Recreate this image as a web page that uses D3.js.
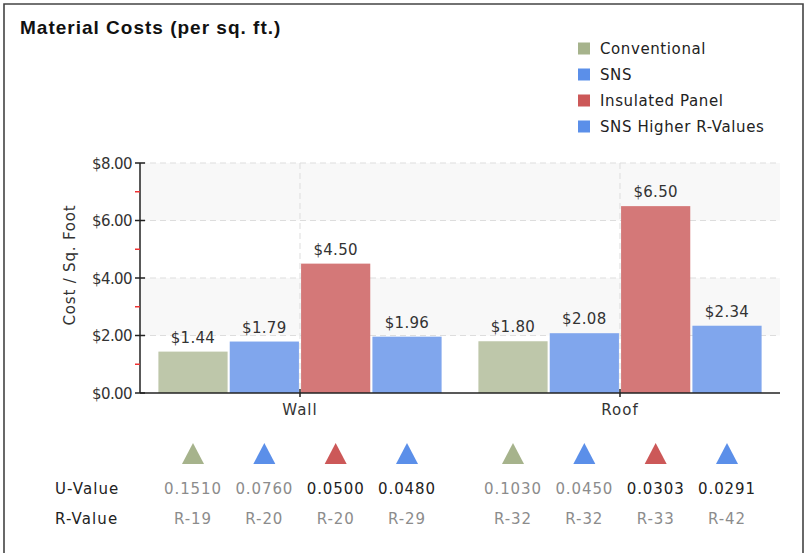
<!DOCTYPE html>
<html><head><meta charset="utf-8">
<script src="https://cdn.jsdelivr.net/npm/d3@7/dist/d3.min.js"></script>
<style>body{margin:0;background:#fff;}svg{display:block;}</style>
</head><body>
<svg id="c" width="806" height="553"></svg>
<script>
const categories = ["Wall", "Roof"];
const seriesNames = ["Conventional", "SNS", "Insulated Panel", "SNS Higher R-Values"];
const wallCosts = [1.44, 1.79, 4.50, 1.96];
const roofCosts = [1.80, 2.08, 6.50, 2.34];
const wallU = ["0.1510", "0.0760", "0.0500", "0.0480"];
const roofU = ["0.1030", "0.0450", "0.0303", "0.0291"];
const wallR = ["R-19", "R-20", "R-20", "R-29"];
const roofR = ["R-32", "R-32", "R-33", "R-42"];
const uDark = [false, false, true, true];
const yTicks = [0, 2, 4, 6, 8];
const yMinor = [1, 3, 5, 7];

const barColors = ["#bec7aa", "#80a6ed", "#d47878", "#80a6ed"];
const triColors = ["#a6b38c", "#5b8fe9", "#cc5858", "#5b8fe9"];

const costs = {Wall: wallCosts, Roof: roofCosts};
const uvals = {Wall: wallU, Roof: roofU};
const rvals = {Wall: wallR, Roof: roofR};

const svg = d3.select("#c");
const F = "'DejaVu Sans', sans-serif";

// frame
svg.append("path").attr("d", "M4,560 V4 H803 V560").attr("fill", "none")
  .attr("stroke", "#444").attr("stroke-width", 1.6);

svg.append("text").attr("x", 20).attr("y", 34)
  .attr("font-family", "'Liberation Sans', Arial, sans-serif").attr("font-weight", "bold")
  .attr("font-size", 19).attr("letter-spacing", 1).attr("fill", "#111")
  .text("Material Costs (per sq. ft.)");

const pLeft = 140, pRight = 780, pTop = 163, pBottom = 393;
const y = d3.scaleLinear().domain([0, 8]).range([pBottom, pTop]);
const x0 = d3.scaleBand().domain(categories).range([pLeft, pRight]).paddingInner(0.115).paddingOuter(0.0575);
const x1 = d3.scaleBand().domain(seriesNames).range([0, x0.bandwidth()]).paddingInner(0.03);

// bands
const g = svg.append("g");
for (let i = 0; i < yTicks.length - 1; i++) {
  if (i % 2 === 1) {
    g.append("rect").attr("x", pLeft).attr("width", pRight - pLeft)
      .attr("y", y(yTicks[i + 1])).attr("height", y(yTicks[i]) - y(yTicks[i + 1]))
      .attr("fill", "#f8f8f8");
  }
}
// grid
g.selectAll("line.hg").data(yTicks.slice(1)).join("line")
  .attr("x1", pLeft).attr("x2", pRight).attr("y1", d => y(d)).attr("y2", d => y(d))
  .attr("stroke", "#dddddd").attr("stroke-dasharray", "6,4");
g.selectAll("line.vg").data(categories).join("line")
  .attr("x1", d => x0(d) + x0.bandwidth() / 2).attr("x2", d => x0(d) + x0.bandwidth() / 2)
  .attr("y1", pTop).attr("y2", pBottom)
  .attr("stroke", "#dddddd").attr("stroke-dasharray", "6,4");

// bars
const cg = svg.selectAll("g.cat").data(categories).join("g").attr("class", "cat")
  .attr("transform", d => `translate(${x0(d)},0)`);
cg.selectAll("rect").data(c => costs[c].map((v, i) => ({v, i, s: seriesNames[i]}))).join("rect")
  .attr("x", d => x1(d.s)).attr("width", x1.bandwidth())
  .attr("y", d => y(d.v)).attr("height", d => y(0) - y(d.v))
  .attr("fill", d => barColors[d.i]);
cg.selectAll("text.val").data(c => costs[c].map((v, i) => ({v, i, s: seriesNames[i]}))).join("text")
  .attr("class", "val")
  .attr("x", d => x1(d.s) + x1.bandwidth() / 2).attr("y", d => y(d.v) - 9)
  .attr("text-anchor", "middle").attr("font-family", F).attr("font-size", 15)
  .attr("letter-spacing", 0.3).attr("fill", "#333")
  .text(d => "$" + d3.format(".2f")(d.v));

// triangles & table
cg.selectAll("path.tri").data(c => seriesNames.map((s, i) => ({s, i}))).join("path")
  .attr("class", "tri")
  .attr("d", d => {
    const cx = x1(d.s) + x1.bandwidth() / 2;
    return `M${cx - 11},464 L${cx},443 L${cx + 11},464 Z`;
  })
  .attr("fill", d => triColors[d.i]);
cg.selectAll("text.u").data(c => uvals[c].map((v, i) => ({v, i, s: seriesNames[i]}))).join("text")
  .attr("class", "u")
  .attr("x", d => x1(d.s) + x1.bandwidth() / 2).attr("y", 494)
  .attr("text-anchor", "middle").attr("font-family", F).attr("font-size", 15)
  .attr("letter-spacing", 0.9).attr("fill", d => uDark[d.i] ? "#222" : "#8c8c8c")
  .text(d => d.v);
cg.selectAll("text.r").data(c => rvals[c].map((v, i) => ({v, i, s: seriesNames[i]}))).join("text")
  .attr("class", "r")
  .attr("x", d => x1(d.s) + x1.bandwidth() / 2).attr("y", 524)
  .attr("text-anchor", "middle").attr("font-family", F).attr("font-size", 15)
  .attr("letter-spacing", 0.9).attr("fill", "#8c8c8c")
  .text(d => d.v);
svg.selectAll("text.rowlab").data(["U-Value", "R-Value"]).join("text").attr("class", "rowlab")
  .attr("x", 55).attr("y", (d, i) => 494 + i * 30)
  .attr("font-family", F).attr("font-size", 15).attr("letter-spacing", 1.1).attr("fill", "#222")
  .text(d => d);

// axes
const ya = svg.append("g");
ya.append("line").attr("x1", pLeft).attr("x2", pLeft).attr("y1", pTop).attr("y2", pBottom)
  .attr("stroke", "#222").attr("stroke-width", 1.5);
ya.selectAll("line.mj").data(yTicks).join("line").attr("class", "mj")
  .attr("x1", pLeft - 5).attr("x2", pLeft + 5).attr("y1", d => y(d)).attr("y2", d => y(d))
  .attr("stroke", "#222").attr("stroke-width", 1.5);
ya.selectAll("line.mn").data(yMinor).join("line").attr("class", "mn")
  .attr("x1", pLeft - 5).attr("x2", pLeft).attr("y1", d => y(d)).attr("y2", d => y(d))
  .attr("stroke", "#e33").attr("stroke-width", 1.5);
ya.selectAll("text").data(yTicks).join("text")
  .attr("x", pLeft - 8).attr("y", d => y(d) + 5.5).attr("text-anchor", "end")
  .attr("font-family", F).attr("font-size", 15).attr("letter-spacing", -0.6).attr("fill", "#333")
  .text(d => "$" + d3.format(".2f")(d));
svg.append("text").attr("transform", `translate(75,${(pTop + pBottom) / 2 - 13}) rotate(-90)`)
  .attr("text-anchor", "middle").attr("font-family", F).attr("font-size", 15)
  .attr("letter-spacing", 0.8).attr("fill", "#333").text("Cost / Sq. Foot");

const xa = svg.append("g");
xa.append("line").attr("x1", pLeft).attr("x2", pRight).attr("y1", pBottom).attr("y2", pBottom)
  .attr("stroke", "#222").attr("stroke-width", 1.5);
xa.selectAll("line.t").data(categories).join("line").attr("class", "t")
  .attr("x1", d => x0(d) + x0.bandwidth() / 2).attr("x2", d => x0(d) + x0.bandwidth() / 2)
  .attr("y1", pBottom - 4).attr("y2", pBottom + 4).attr("stroke", "#222").attr("stroke-width", 1.5);
xa.selectAll("text").data(categories).join("text")
  .attr("x", d => x0(d) + x0.bandwidth() / 2).attr("y", 415).attr("text-anchor", "middle")
  .attr("font-family", F).attr("font-size", 15).attr("letter-spacing", 1).attr("fill", "#333")
  .text(d => d);

// legend
const lg = svg.selectAll("g.leg").data(seriesNames).join("g").attr("class", "leg")
  .attr("transform", (d, i) => `translate(578,${48.5 + i * 26})`);
lg.append("rect").attr("x", 0).attr("y", -6).attr("width", 12).attr("height", 12)
  .attr("fill", (d, i) => triColors[i]);
lg.append("text").attr("x", 22).attr("y", 5.5).attr("font-family", F).attr("font-size", 15)
  .attr("letter-spacing", 0.6).attr("fill", "#222").text(d => d);
</script>
</body></html>
